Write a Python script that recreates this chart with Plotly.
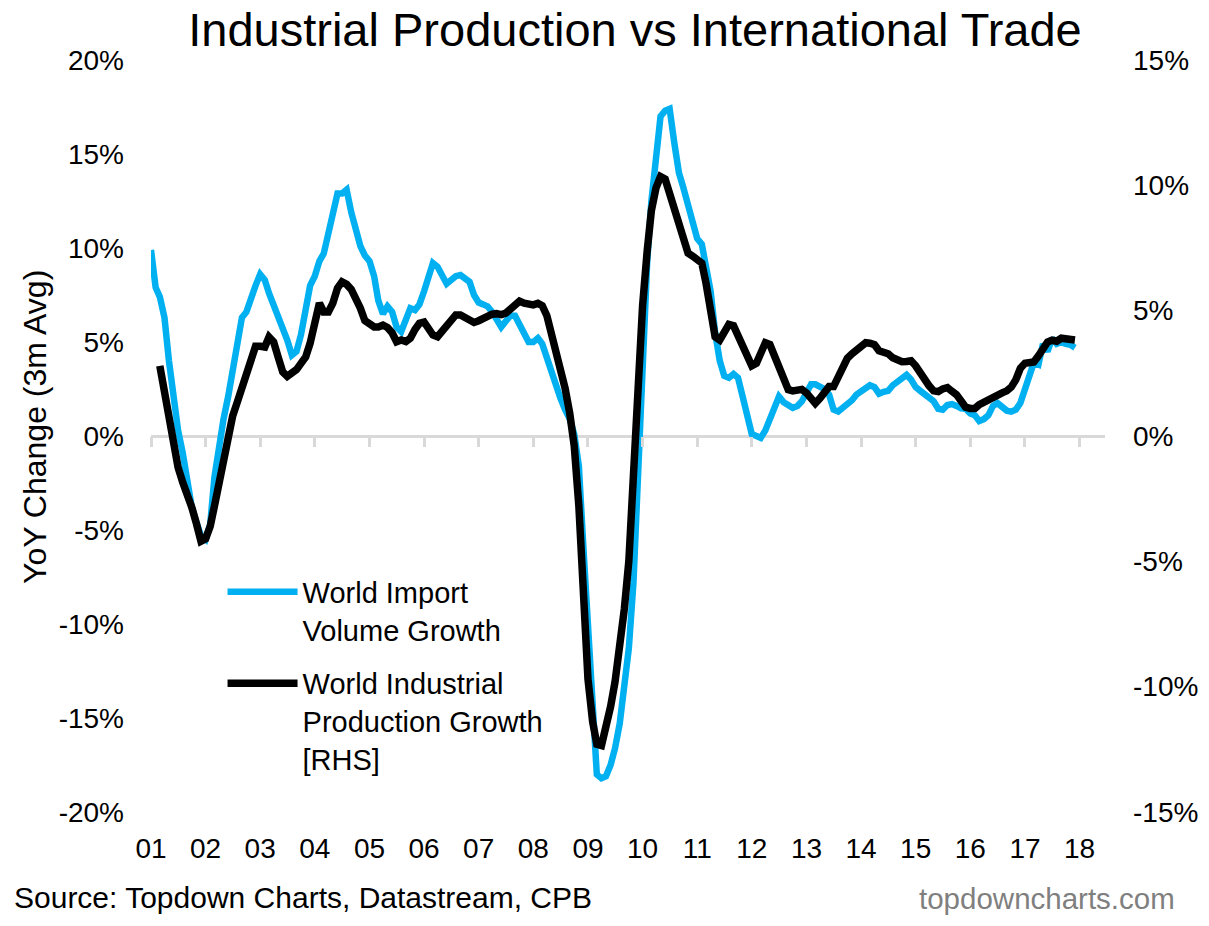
import pandas as pd
import plotly.graph_objects as go

# World Import Volume Growth, YoY % (3m avg), monthly Jan 2001 - Dec 2017 (left axis)
imports = [
    9.9, 7.9, 7.4, 6.3, 4.0, 2.1, 0.3, -0.9, -2.2, -3.8, -4.6, -5.3,
    -5.5, -4.7, -2.2, -0.4, 0.9, 2.1, 3.4, 4.8, 6.3, 6.6, 7.4, 8.0,
    8.6, 8.3, 7.6, 7.0, 6.2, 5.6, 5.1, 4.3, 4.5, 5.4, 6.7, 8.0,
    8.5, 9.3, 9.7, 10.7, 11.8, 12.9, 12.9, 13.1, 11.9, 11.0, 10.1, 9.6,
    9.3, 8.5, 7.2, 6.5, 6.9, 6.6, 5.8, 5.55, 6.1, 6.8, 6.7, 7.0,
    7.7, 8.6, 9.2, 9.0, 8.5, 8.1, 8.3, 8.5, 8.56, 8.4, 8.2, 7.5,
    7.1, 7.0, 6.9, 6.6, 6.2, 5.8, 6.1, 6.4, 6.4, 5.9, 5.4, 5.0,
    5.0, 5.2, 4.9, 4.1, 3.3, 2.6, 2.0, 1.4, 0.9, 0.1, -1.6, -5.9,
    -10.5, -14.7, -18.0, -18.2, -18.1, -17.5, -16.6, -15.3, -13.2, -11.3, -7.8, -1.7,
    4.2, 9.3, 12.5, 15.2, 17.0, 17.3, 17.4, 15.6, 14.0, 13.2, 12.2, 11.3,
    10.5, 10.2, 9.0, 7.7, 5.5, 4.0, 3.2, 3.1, 3.3, 3.1, 2.1, 1.0,
    0.1, 0.0, -0.1, 0.3, 0.9, 1.5, 2.1, 1.8, 1.6, 1.5, 1.6, 1.85,
    2.3, 2.75, 2.75, 2.6, 2.5, 2.2, 1.4, 1.3, 1.5, 1.7, 1.9, 2.2,
    2.4, 2.5, 2.7, 2.6, 2.25, 2.35, 2.4, 2.7, 2.9, 3.15, 3.25, 3.0,
    2.6, 2.4, 2.25, 2.1, 1.85, 1.45, 1.4, 1.65, 1.7, 1.6, 1.47, 1.45,
    1.2, 1.1, 0.8, 0.9, 1.1, 1.6, 1.75, 1.55, 1.35, 1.3, 1.4, 1.75,
    2.5, 3.2, 3.9, 3.8, 4.9, 4.5, 5.2, 4.9, 5.0, 4.9, 4.85, 4.7,
]

# World Industrial Production Growth, YoY % (3m avg), monthly Mar 2001 - Dec 2017 (right axis)
production = [
    2.8, 1.8, 0.6, -0.45, -1.25, -1.85, -2.3, -2.85, -3.5, -4.2,
    -4.1, -3.6, -2.8, -1.9, -0.9, 0.1, 0.8, 1.35, 1.9, 2.5, 3.2, 3.58,
    3.58, 3.55, 3.95, 3.75, 3.15, 2.55, 2.38, 2.48, 2.65, 2.9, 3.15, 3.7,
    4.6, 5.3, 4.95, 4.95, 5.3, 5.9, 6.15, 6.05, 5.85, 5.5, 5.1, 4.6,
    4.45, 4.35, 4.35, 4.42, 4.33, 4.12, 3.76, 3.83, 3.77, 3.9, 4.25, 4.5,
    4.55, 4.28, 4.03, 3.96, 4.2, 4.4, 4.7, 4.83, 4.83, 4.73, 4.6, 4.53,
    4.6, 4.7, 4.8, 4.86, 4.88, 4.84, 4.9, 5.04, 5.16, 5.38, 5.3, 5.24,
    5.23, 5.29, 5.2, 4.8, 4.1, 3.45, 2.75, 1.9, 0.9, -0.4, -2.8, -6.7,
    -9.7, -11.4, -12.3, -12.35, -11.7, -10.8, -9.8, -8.4, -6.9, -5.0, -1.4, 2.5,
    5.2, 7.4, 9.0, 9.9, 10.35, 10.25, 9.7, 9.0, 8.5, 7.8, 7.3, 7.18,
    7.08, 6.9, 6.1, 5.1, 3.96, 3.83, 4.2, 4.45, 4.4, 4.0, 3.5, 3.1,
    2.8, 2.9, 3.4, 3.72, 3.65, 3.2, 2.75, 2.2, 1.85, 1.8, 1.83, 1.86,
    1.72, 1.45, 1.3, 1.5, 1.75, 1.97, 1.97, 2.35, 2.78, 3.1, 3.28, 3.4,
    3.58, 3.72, 3.7, 3.64, 3.4, 3.33, 3.28, 3.12, 3.0, 2.96, 2.97, 3.0,
    2.8, 2.5, 2.25, 2.0, 1.8, 1.77, 1.88, 1.93, 1.78, 1.65, 1.4, 1.15,
    1.1, 1.1, 1.25, 1.35, 1.45, 1.6, 1.67, 1.72, 1.8, 1.95, 2.25, 2.7,
    2.9, 2.92, 2.95, 3.2, 3.5, 3.75, 3.82, 3.78, 3.9, 3.9, 3.86, 3.83,
]

import_dates = pd.date_range("2001-01-01", periods=len(imports), freq="MS")
production_dates = pd.date_range("2001-03-01", periods=len(production), freq="MS")

left_tickvals = [20, 15, 10, 5, 0, -5, -10, -15, -20]
left_ticktext = ["20%", "15%", "10%", "5%", "0%", "-5%", "-10%", "-15%", "-20%"]
right_tickvals = [15, 10, 5, 0, -5, -10, -15]
right_ticktext = ["15%", "10%", "5%", "0%", "-5%", "-10%", "-15%"]

FONT = "Liberation Sans, Arial, sans-serif"
BLUE = "#00B0F0"
GRID = "#D9D9D9"
x_range = ["2001-01-01", "2018-06-20"]

# plot area in pixels (for placing text outside the axes)
PL, PR, PT, PB = 151, 1105, 60, 812
PW, PH = PR - PL, PB - PT

fig = go.Figure()
fig.add_trace(go.Scatter(
    x=import_dates, y=imports, mode="lines",
    name="World Import<br>Volume Growth",
    line=dict(color=BLUE, width=6.5),
    legendgroup="a", yaxis="y", xaxis="x",
))
fig.add_trace(go.Scatter(
    x=production_dates, y=production, mode="lines",
    name="World Industrial<br>Production Growth<br>[RHS]",
    line=dict(color="#000000", width=7.5),
    legendgroup="b", yaxis="y2", xaxis="x",
))
# empty trace on a hidden half-height subplot: its x axis sits on the zero line and
# supplies the small year tick marks hanging below it
fig.add_trace(go.Scatter(x=[], y=[], xaxis="x2", yaxis="y3", showlegend=False,
                         hoverinfo="skip"))

fig.update_layout(
    width=1209, height=926,
    margin=dict(l=PL, r=1209 - PR, t=PT, b=926 - PB),
    paper_bgcolor="white", plot_bgcolor="rgba(0,0,0,0)",
    font=dict(family=FONT, size=28, color="#000000"),
    title=dict(
        text="Industrial Production vs International Trade",
        font=dict(family=FONT, size=47, color="#000000"),
        x=635 / 1209, xanchor="center", xref="container",
        y=1 - 30 / 926, yanchor="middle", yref="container",
    ),
    xaxis=dict(
        type="date", range=x_range,
        tick0="2001-01-01", dtick="M12", tickformat="%y",
        showgrid=False, showline=False, zeroline=False, ticks="",
        ticklabelstandoff=17,
        tickfont=dict(size=28),
    ),
    xaxis2=dict(
        type="date", range=x_range, anchor="y3", side="bottom",
        tick0="2001-01-01", dtick="M12",
        showgrid=False, showline=False, zeroline=False,
        ticks="outside", ticklen=10, tickwidth=3, tickcolor=GRID,
        showticklabels=False,
    ),
    yaxis=dict(
        range=[-20, 20], tickvals=left_tickvals, ticktext=left_ticktext,
        showgrid=False, showline=False, ticks="",
        zeroline=True, zerolinecolor=GRID, zerolinewidth=3,
        ticklabelstandoff=26,
    ),
    yaxis2=dict(
        range=[-15, 15], tickvals=right_tickvals, ticktext=right_ticktext,
        overlaying="y", side="right", anchor="x",
        showgrid=False, zeroline=False, showline=False, ticks="",
        ticklabelstandoff=27,
    ),
    yaxis3=dict(domain=[0.5, 1], range=[0, 1], anchor="x2", visible=False),
    showlegend=True,
    legend=dict(
        x=0.075, y=0.3266, xanchor="left", yanchor="top",
        xref="paper", yref="paper",
        bgcolor="rgba(0,0,0,0)", borderwidth=0,
        font=dict(family=FONT, size=29, color="#000000"),
        valign="top", traceorder="grouped", tracegroupgap=13,
        itemwidth=70,
    ),
    annotations=[
        dict(text="YoY Change (3m Avg)", textangle=-90,
             xref="paper", yref="paper", x=(35 - PL) / PW, y=(PB - 427) / PH,
             xanchor="center", yanchor="middle", showarrow=False,
             font=dict(family=FONT, size=32, color="#000000")),
        dict(text="Source: Topdown Charts, Datastream, CPB",
             xref="paper", yref="paper", x=(12 - PL) / PW, y=(PB - 897) / PH,
             xanchor="left", yanchor="middle", showarrow=False,
             font=dict(family=FONT, size=30, color="#000000")),
        dict(text="topdowncharts.com",
             xref="paper", yref="paper", x=(1177 - PL) / PW, y=(PB - 898) / PH,
             xanchor="right", yanchor="middle", showarrow=False,
             font=dict(family=FONT, size=29.5, color="#7F7F7F")),
    ],
)

fig.write_html("out.html", config={"displayModeBar": False},
               post_script="document.body.style.margin='0px';")
